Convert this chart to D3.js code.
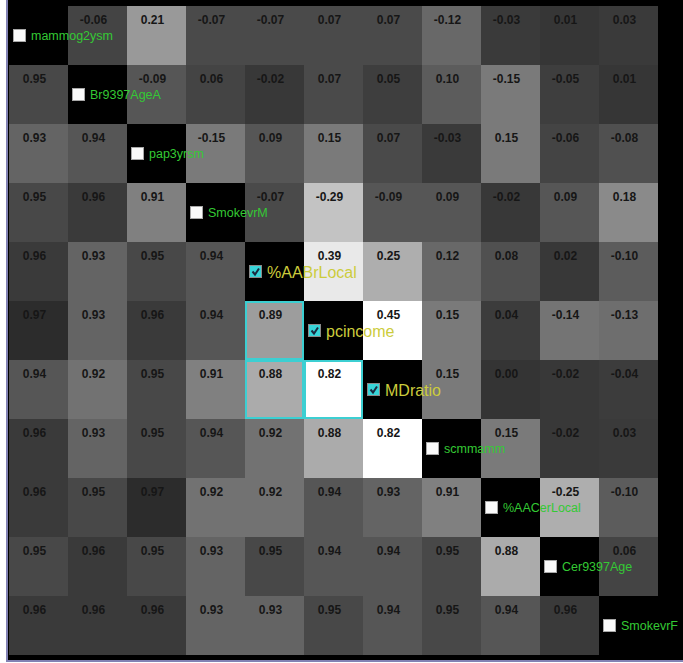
<!DOCTYPE html>
<html><head><meta charset="utf-8">
<script src="https://cdn.jsdelivr.net/npm/d3@7"></script>
<style>html,body{margin:0;padding:0;background:#fff;}svg{display:block;}</style>
</head><body>
<script>
const variables = ["mammog2ysm","Br9397AgeA","pap3yrsm","SmokevrM","%AABrLocal","pcincome","MDratio","scmmamm","%AACerLocal","Cer9397Age","SmokevrF"];
const checked = [false,false,false,false,true,true,true,false,false,false,false];
// lower triangle (row i, columns 0..i-1)
const lower = [
  [],
  [0.95],
  [0.93,0.94],
  [0.95,0.96,0.91],
  [0.96,0.93,0.95,0.94],
  [0.97,0.93,0.96,0.94,0.89],
  [0.94,0.92,0.95,0.91,0.88,0.82],
  [0.96,0.93,0.95,0.94,0.92,0.88,0.82],
  [0.96,0.95,0.97,0.92,0.92,0.94,0.93,0.91],
  [0.95,0.96,0.95,0.93,0.95,0.94,0.94,0.95,0.88],
  [0.96,0.96,0.96,0.93,0.93,0.95,0.94,0.95,0.94,0.96]
];
// upper triangle (row i, columns i+1..10)
const upper = [
  [-0.06,0.21,-0.07,-0.07,0.07,0.07,-0.12,-0.03,0.01,0.03],
  [-0.09,0.06,-0.02,0.07,0.05,0.10,-0.15,-0.05,0.01],
  [-0.15,0.09,0.15,0.07,-0.03,0.15,-0.06,-0.08],
  [-0.07,-0.29,-0.09,0.09,-0.02,0.09,0.18],
  [0.39,0.25,0.12,0.08,0.02,-0.10],
  [0.45,0.15,0.04,-0.14,-0.13],
  [0.15,0.00,-0.02,-0.04],
  [0.15,-0.02,0.03],
  [-0.25,-0.10],
  [0.06],
  []
];

const W = 683, H = 663, n = variables.length;
const svg = d3.select("body").append("svg").attr("width", W).attr("height", H);
svg.append("rect").attr("x",0).attr("y",0).attr("width",W).attr("height",H).attr("fill","#fff");
svg.append("rect").attr("x",8).attr("y",0).attr("width",W-8).attr("height",660).attr("fill","#000");
svg.append("rect").attr("x",6).attr("y",0).attr("width",2).attr("height",662).attr("fill","#8282b4");
svg.append("rect").attr("x",6).attr("y",660).attr("width",W-6).attr("height",2).attr("fill","#8282b4");

const x = d3.scaleBand().domain(d3.range(n)).range([9, 9 + 59*n]);
const y = d3.scaleBand().domain(d3.range(n)).range([6, 6 + 59*n]);
const grayLower = d3.scaleLinear().domain([0.82, 0.97]).range([255, 44]).clamp(true);
const grayUpper = d3.scaleLinear().domain([0, 0.05, 0.15, 0.30, 0.45]).range([52, 62, 122, 200, 255]).clamp(true);

const cells = [];
for (let i = 0; i < n; i++) {
  for (let j = 0; j < n; j++) {
    if (j < i) cells.push({i, j, v: lower[i][j], type: "lower"});
    else if (j > i) cells.push({i, j, v: upper[i][j - i - 1], type: "upper"});
    else cells.push({i, j, v: null, type: "diag"});
  }
}
const fillOf = d => {
  if (d.type === "diag") return "#000";
  const g = Math.round(d.type === "lower" ? grayLower(d.v) : grayUpper(Math.abs(d.v)));
  return d3.rgb(g, g, g).toString();
};

const g = svg.append("g");
g.selectAll("rect.cell").data(cells).join("rect").attr("class","cell")
  .attr("x", d => x(d.j)).attr("y", d => y(d.i))
  .attr("width", x.bandwidth()).attr("height", y.bandwidth())
  .attr("fill", fillOf);

// highlight pairs between checked variables (lower triangle)
const hl = cells.filter(d => d.type === "lower" && checked[d.i] && checked[d.j]);
g.selectAll("rect.hl").data(hl).join("rect").attr("class","hl")
  .attr("x", d => x(d.j) + 1).attr("y", d => y(d.i) + 1)
  .attr("width", x.bandwidth() - 2).attr("height", y.bandwidth() - 2)
  .attr("fill","none").attr("stroke","#3ccfd2").attr("stroke-width",2);

const fmt = v => v.toFixed(2);
g.selectAll("text.val").data(cells.filter(d => d.type !== "diag")).join("text").attr("class","val")
  .attr("x", d => x(d.j) + x.bandwidth()/2 - 4)
  .attr("y", d => y(d.i) + 18)
  .attr("text-anchor","middle")
  .attr("font-family","'Liberation Sans', Arial, sans-serif")
  .attr("font-weight","bold").attr("font-size","12px")
  .attr("fill","#161616")
  .text(d => fmt(d.v));

// diagonal labels (drawn last so they overflow into neighbouring cells)
const diag = d3.range(n).map(i => ({i, name: variables[i], on: checked[i]}));
const lg = g.selectAll("g.lab").data(diag).join("g").attr("class","lab")
  .attr("transform", d => `translate(${x(d.i)},${y(d.i)})`);
lg.append("rect")
  .attr("x", 4.5).attr("y", 23.5).attr("width", 12).attr("height", 12)
  .attr("fill", d => d.on ? "#38d4d8" : "#fafafa")
  .attr("stroke", d => d.on ? "#8a8a8a" : "#a8a8a8").attr("stroke-width", 1);
lg.filter(d => d.on).append("path")
  .attr("d","M7.5,29.5 L10,32.5 L14,26.5")
  .attr("fill","none").attr("stroke","#1a2a40").attr("stroke-width",2);
lg.append("text")
  .attr("x", 22)
  .attr("y", d => d.on ? 36 : 34)
  .attr("font-family","'Liberation Sans', Arial, sans-serif")
  .attr("font-size", d => d.on ? "16px" : "12.5px")
  .attr("fill", d => d.on ? "#cccc3c" : "#34c934")
  .text(d => d.name);
</script>
</body></html>
